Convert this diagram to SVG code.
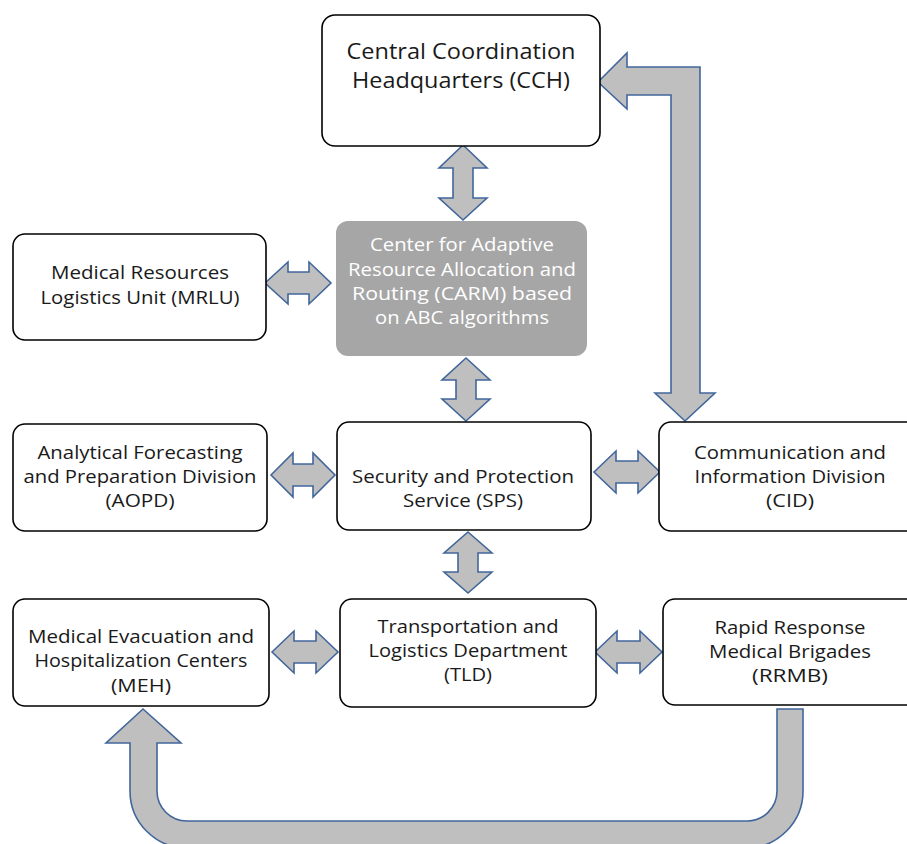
<svg xmlns="http://www.w3.org/2000/svg" width="907" height="844" viewBox="0 0 907 844">
<style>
.box{fill:#fff;stroke:#000;stroke-width:1.6}
.dark{fill:#a6a6a6;stroke:none}
.arr{fill:#bfbfbf;stroke:#41669c;stroke-width:1.6;stroke-linejoin:miter}
text{font-family:"Open Sans","Noto Sans","Liberation Sans",sans-serif;font-size:18px;fill:#1a1a1a;text-anchor:middle}
.big{font-size:21px}
.w{fill:#fff}
</style>
<rect width="907" height="844" fill="#fff"/>
<g id="connectors">
<path class="arr" d="M598,82 L627,53 L627,67 L700,67 L700,393 L715,393 L685,421 L655,393 L671,393 L671,95 L627,95 L627,109 Z"/>
<path class="arr" d="M777,709 L803,709 L803,791 A57,57 0 0 1 746,848 L187,848 A57,57 0 0 1 130,791 L130,743 L106,743 L143,709 L181,743 L157,743 L157,791 A30,30 0 0 0 187,821 L746,821 A30,30 0 0 0 777,791 Z"/>
<path class="arr" d="M463,145 L487,168 L473,168 L473,198 L487,198 L463,220 L439,198 L453,198 L453,168 L439,168 Z"/>
<path class="arr" d="M466,358 L490,380 L476,380 L476,399 L490,399 L466,421 L442,399 L456,399 L456,380 L442,380 Z"/>
<path class="arr" d="M468,532 L492,553 L478,553 L478,572 L492,572 L468,593 L444,572 L458,572 L458,553 L444,553 Z"/>
<path class="arr" d="M265,283 L288,262 L288,272 L309,272 L309,262 L331,283 L309,304 L309,294 L288,294 L288,304 Z"/>
<path class="arr" d="M271,475 L293,453 L293,464 L313,464 L313,453 L335,475 L313,497 L313,486 L293,486 L293,497 Z"/>
<path class="arr" d="M594,472 L616,451 L616,461 L638,461 L638,451 L660,472 L638,493 L638,483 L616,483 L616,493 Z"/>
<path class="arr" d="M272,652 L294,631 L294,641 L316,641 L316,631 L338,652 L316,673 L316,663 L294,663 L294,673 Z"/>
<path class="arr" d="M595,652 L617,631 L617,641 L640,641 L640,631 L662,652 L640,673 L640,663 L617,663 L617,673 Z"/>
</g>
<g id="CCH">
<rect class="box" x="322" y="15" width="278" height="131" rx="13"/>
<text class="big" x="461" y="59" textLength="229" lengthAdjust="spacingAndGlyphs">Central Coordination</text>
<text class="big" x="461" y="88" textLength="218" lengthAdjust="spacingAndGlyphs">Headquarters (CCH)</text>
</g>
<g id="CARM">
<rect class="dark" x="336" y="221" width="251" height="135" rx="12"/>
<text class="w" x="462" y="251" textLength="184" lengthAdjust="spacingAndGlyphs">Center for Adaptive</text>
<text class="w" x="462" y="276" textLength="228" lengthAdjust="spacingAndGlyphs">Resource Allocation and</text>
<text class="w" x="462" y="300" textLength="220" lengthAdjust="spacingAndGlyphs">Routing (CARM) based</text>
<text class="w" x="462" y="324" textLength="174" lengthAdjust="spacingAndGlyphs">on ABC algorithms</text>
</g>
<g id="MRLU">
<rect class="box" x="13" y="234" width="253" height="106" rx="12"/>
<text x="140" y="279" textLength="178" lengthAdjust="spacingAndGlyphs">Medical Resources</text>
<text x="140" y="304" textLength="199" lengthAdjust="spacingAndGlyphs">Logistics Unit (MRLU)</text>
</g>
<g id="AOPD">
<rect class="box" x="13" y="424" width="254" height="107" rx="12"/>
<text x="140" y="459" textLength="205" lengthAdjust="spacingAndGlyphs">Analytical Forecasting</text>
<text x="140" y="483" textLength="233" lengthAdjust="spacingAndGlyphs">and Preparation Division</text>
<text x="140" y="507" textLength="69" lengthAdjust="spacingAndGlyphs">(AOPD)</text>
</g>
<g id="SPS">
<rect class="box" x="337" y="422" width="254" height="108" rx="12"/>
<text x="463" y="483" textLength="222" lengthAdjust="spacingAndGlyphs">Security and Protection</text>
<text x="463" y="507" textLength="120" lengthAdjust="spacingAndGlyphs">Service (SPS)</text>
</g>
<g id="CID">
<rect class="box" x="659" y="422" width="260" height="109" rx="12"/>
<text x="790" y="459" textLength="192" lengthAdjust="spacingAndGlyphs">Communication and</text>
<text x="790" y="483" textLength="191" lengthAdjust="spacingAndGlyphs">Information Division</text>
<text x="790" y="507" textLength="48" lengthAdjust="spacingAndGlyphs">(CID)</text>
</g>
<g id="MEH">
<rect class="box" x="13" y="599" width="256" height="107" rx="12"/>
<text x="141" y="643" textLength="226" lengthAdjust="spacingAndGlyphs">Medical Evacuation and</text>
<text x="141" y="667" textLength="213" lengthAdjust="spacingAndGlyphs">Hospitalization Centers</text>
<text x="141" y="692" textLength="60" lengthAdjust="spacingAndGlyphs">(MEH)</text>
</g>
<g id="TLD">
<rect class="box" x="340" y="599" width="256" height="108" rx="12"/>
<text x="468" y="633" textLength="181" lengthAdjust="spacingAndGlyphs">Transportation and</text>
<text x="468" y="657" textLength="199" lengthAdjust="spacingAndGlyphs">Logistics Department</text>
<text x="468" y="681" textLength="48" lengthAdjust="spacingAndGlyphs">(TLD)</text>
</g>
<g id="RRMB">
<rect class="box" x="663" y="599" width="256" height="106" rx="12"/>
<text x="790" y="634" textLength="151" lengthAdjust="spacingAndGlyphs">Rapid Response</text>
<text x="790" y="658" textLength="162" lengthAdjust="spacingAndGlyphs">Medical Brigades</text>
<text x="790" y="682" textLength="76" lengthAdjust="spacingAndGlyphs">(RRMB)</text>
</g>
</svg>
